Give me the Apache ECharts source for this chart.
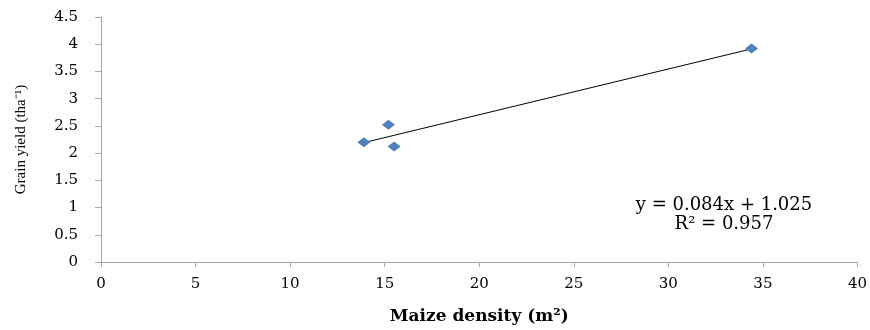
<!DOCTYPE html>
<html>
<head>
<meta charset="utf-8">
<script src="https://cdn.jsdelivr.net/npm/echarts@6/dist/echarts.min.js"></script>
<style>
  html, body { margin: 0; padding: 0; background: #fff; }
  #chart { width: 870px; height: 330px; }
</style>
</head>
<body>
<div id="chart"></div>
<script>
var density = [13.9, 15.2, 15.5, 34.4];
var grainYield = [2.2, 2.52, 2.12, 3.92];
var slope = 0.084;
var intercept = 1.025;
var r2 = 0.957;

var chartDom = document.getElementById('chart');
var myChart = echarts.init(chartDom);
var option;

var points = density.map(function (x, i) { return [x, grainYield[i]]; });
var xMin = Math.min.apply(null, density);
var xMax = Math.max.apply(null, density);
var trend = [[xMin, slope * xMin + intercept], [xMax, slope * xMax + intercept]];

// the source picture is stretched sideways, DejaVu Serif is a wider serif
var wide = 'DejaVu Serif';
var serif = 'Liberation Serif';
var axisGray = '#a6a6a6';

option = {
  animation: false,
  textStyle: { fontFamily: wide, color: '#000' },
  grid: { left: 101, right: 12, top: 17, bottom: 64 },
  xAxis: {
    type: 'value',
    min: 0,
    max: 40,
    interval: 5,
    name: 'Maize density (m²)',
    nameLocation: 'middle',
    nameGap: 46,
    nameTextStyle: { fontFamily: wide, fontSize: 17, color: '#000', fontWeight: 'bold' },
    splitLine: { show: false },
    axisLine: { lineStyle: { color: axisGray } },
    axisTick: { length: 5, lineStyle: { color: axisGray } },
    axisLabel: { fontFamily: wide, fontSize: 15, color: '#000', margin: 15 }
  },
  yAxis: {
    type: 'value',
    min: 0,
    max: 4.5,
    interval: 0.5,
    name: 'Grain yield (tha⁻¹)',
    nameLocation: 'middle',
    nameGap: 72,
    nameTextStyle: { fontFamily: serif, fontSize: 15, color: '#000' },
    splitLine: { show: false },
    axisLine: { show: true, lineStyle: { color: axisGray } },
    axisTick: { show: true, length: 6, lineStyle: { color: axisGray } },
    axisLabel: { fontFamily: wide, fontSize: 15, color: '#000', margin: 23 }
  },
  series: [
    {
      name: 'Trend',
      type: 'line',
      data: trend,
      symbol: 'none',
      lineStyle: { color: '#000', width: 1 },
      z: 1
    },
    {
      name: 'Grain yield',
      type: 'scatter',
      data: points,
      symbol: 'diamond',
      symbolSize: [13, 10],
      itemStyle: { color: '#4f81bd', opacity: 1 },
      z: 2
    }
  ],
  graphic: [
    {
      type: 'text',
      x: 724,
      y: 205,
      style: {
        text: 'y = ' + slope.toFixed(3) + 'x + ' + intercept.toFixed(3),
        font: '18px "DejaVu Serif"',
        fill: '#000',
        textAlign: 'center',
        textVerticalAlign: 'middle'
      }
    },
    {
      type: 'text',
      x: 724,
      y: 224,
      style: {
        text: 'R² = ' + r2.toFixed(3),
        font: '18px "DejaVu Serif"',
        fill: '#000',
        textAlign: 'center',
        textVerticalAlign: 'middle'
      }
    }
  ]
};

option && myChart.setOption(option);
</script>
</body>
</html>
